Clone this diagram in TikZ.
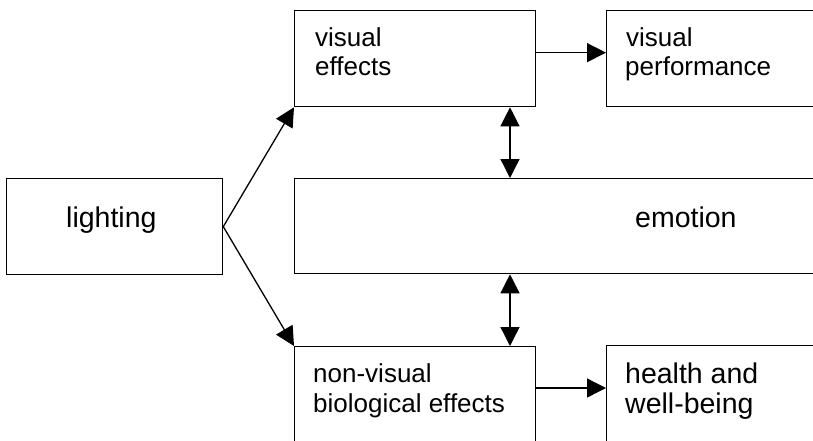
\documentclass[tikz,border=0pt]{standalone}
\usepackage{fontspec}
\setmainfont{Liberation Sans}
\usetikzlibrary{arrows.meta}
\begin{document}
\begin{tikzpicture}[x=1pt,y=-1pt,
 box/.style={draw,line width=1.3pt,rectangle,inner sep=0pt,anchor=north west},
 lbl/.style={anchor=base west,inner sep=0pt,font=\fontsize{26}{30}\selectfont},
 biglbl/.style={anchor=base west,inner sep=0pt,font=\fontsize{28.5}{32}\selectfont},
 arr/.style={line width=1.3pt,-{Triangle[length=19pt,width=19pt]}},
 darr/.style={line width=1.3pt,{Triangle[length=19pt,width=19pt]}-{Triangle[length=19pt,width=19pt]}}]
\useasboundingbox (0,0) rectangle (813,440);
% boxes
\node[box,minimum width=216pt,minimum height=96pt] (light) at (6,178) {};
\node[box,minimum width=241pt,minimum height=96pt] (ve) at (294,10) {};
\node[box,minimum width=260pt,minimum height=96pt] (vp) at (606,10) {};
\node[box,minimum width=560pt,minimum height=95pt] (emo) at (294,178) {};
\node[box,minimum width=241pt,minimum height=120pt] (nv) at (294,346) {};
\node[box,minimum width=260pt,minimum height=120pt] (hw) at (606,345) {};
% texts
\node[biglbl] (tlight) at (66,227) {lighting};
\node[lbl] (tve1) at (315,46) {visual};
\node[lbl] (tve2) at (315,75) {effects};
\node[lbl] (tvp1) at (626,46) {visual};
\node[lbl] (tvp2) at (625,75) {performance};
\node[biglbl] (temo) at (635,227) {emotion};
\node[lbl] (tnv1) at (313,382) {non-visual};
\node[lbl] (tnv2) at (313,412) {biological effects};
\node[biglbl] (thw1) at (625,383) {health and};
\node[biglbl] (thw2) at (625,413) {well-being};
% connectors
\draw[arr] (light.east) -- (ve.south west);
\draw[arr] (light.east) -- (nv.north west);
\draw[arr] ([yshift=6pt]ve.east) coordinate (a1) -- (a1 -| vp.west);
\draw[arr] ([yshift=-42pt]nv.north east) coordinate (a2) -- (a2 -| hw.west);
\coordinate (vx) at (510,0);
\draw[darr] (vx |- ve.south) -- (vx |- emo.north);
\draw[darr] (vx |- emo.south) -- (vx |- nv.north);
\end{tikzpicture}
\end{document}
